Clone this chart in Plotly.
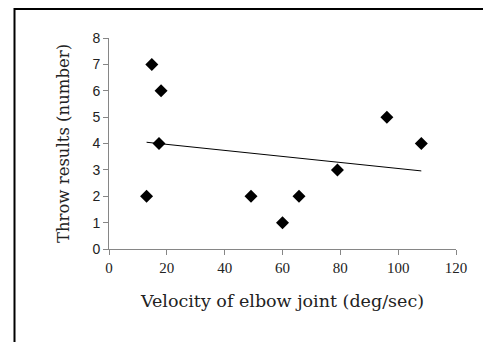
import numpy as np
import plotly.graph_objects as go

velocity = [13.0, 14.8, 18.0, 17.3, 49.1, 60.0, 65.7, 79.0, 96.1, 108.0]
throws = [2, 7, 6, 4, 2, 1, 2, 3, 5, 4]
x_ticks = [0, 20, 40, 60, 80, 100, 120]
y_ticks = [0, 1, 2, 3, 4, 5, 6, 7, 8]

slope, intercept = np.polyfit(velocity, throws, 1)
trend_x = [min(velocity), max(velocity)]
trend_y = [slope * v + intercept for v in trend_x]

fig = go.Figure()
fig.add_trace(go.Scatter(x=trend_x, y=trend_y, mode="lines",
                         line=dict(color="black", width=1), showlegend=False))
fig.add_trace(go.Scatter(x=velocity, y=throws, mode="markers",
                         marker=dict(symbol="diamond", size=10, color="black"),
                         showlegend=False))

# page has an 8px body margin, so the figure is sized 8px smaller
W, H = 483, 334
l, r, t, b = 101, 35, 30, 93
pw, ph = W - l - r, H - t - b
fig.add_shape(type="rect", xref="paper", yref="paper",
              x0=(6.5 - l) / pw, x1=(W + 20 - l) / pw,
              y0=(H - b - (H + 20)) / ph, y1=(H - b - 1) / ph,
              line=dict(color="black", width=2), fillcolor="rgba(0,0,0,0)")

fig.update_layout(
    width=W, height=H,
    margin=dict(l=l, r=r, t=t, b=b, autoexpand=False),
    plot_bgcolor="white", paper_bgcolor="white",
    xaxis=dict(range=[0, 120], tickvals=x_ticks, showgrid=False, zeroline=False,
               showline=True, linecolor="#868686", linewidth=1,
               ticks="outside", ticklen=5, tickcolor="#868686", automargin=False,
               tickfont=dict(family="Liberation Serif", size=15, color="#222"),
               title=dict(text="Velocity of elbow joint (deg/sec)",
                          font=dict(family="DejaVu Serif", size=17.5, color="#222"),
                          standoff=19)),
    yaxis=dict(range=[0, 8], tickvals=y_ticks, showgrid=False, zeroline=False,
               showline=True, linecolor="#868686", linewidth=1,
               ticks="outside", ticklen=5, tickcolor="#868686", automargin=False,
               tickfont=dict(family="Liberation Sans", size=14, color="#222"),
               title=dict(text="Throw results (number)",
                          font=dict(family="DejaVu Serif", size=16.5, color="#222"),
                          standoff=18)),
)
fig.write_html("out.html")
